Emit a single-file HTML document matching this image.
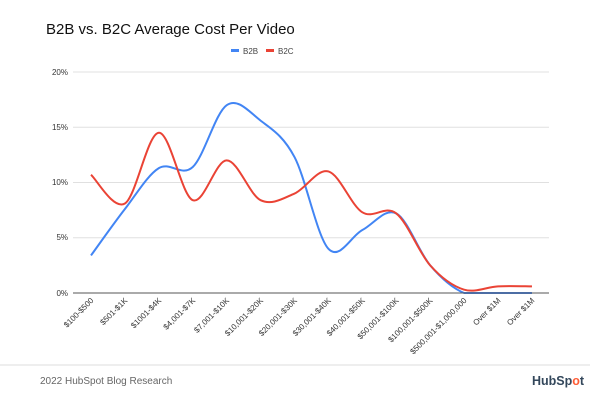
<!DOCTYPE html>
<html><head><meta charset="utf-8"><style>
body{margin:0;background:#fff;width:600px;height:400px;overflow:hidden;font-family:"Liberation Sans",Arial,sans-serif}
</style></head><body>
<svg id="s" width="600" height="400" xmlns="http://www.w3.org/2000/svg" font-family="Liberation Sans, Arial, sans-serif">
<text x="46" y="34" font-size="15" fill="#111">B2B vs. B2C Average Cost Per Video</text>
<rect x="231" y="49" width="8" height="3" fill="#4285f4"/>
<text x="243" y="54" font-size="8" fill="#444">B2B</text>
<rect x="266" y="49" width="8" height="3" fill="#ea4335"/>
<text x="278" y="54" font-size="8" fill="#444">B2C</text>
<g stroke="#e0e0e0" stroke-width="1">
<line x1="73" x2="549" y1="72" y2="72"/><line x1="73" x2="549" y1="127.3" y2="127.3"/>
<line x1="73" x2="549" y1="182.5" y2="182.5"/><line x1="73" x2="549" y1="237.8" y2="237.8"/>
</g>
<g font-size="8" fill="#333" text-anchor="end">
<text x="68" y="75">20%</text><text x="68" y="130">15%</text><text x="68" y="185">10%</text><text x="68" y="240">5%</text><text x="68" y="296">0%</text>
</g>
<g id="lines"></g>
<line x1="73" x2="549" y1="293" y2="293" stroke="#555" stroke-width="1"/>
<g id="labels" font-size="8" fill="#333" text-anchor="end"></g>
<line x1="0" x2="590" y1="365" y2="365" stroke="#eee" stroke-width="2"/>
<text x="40" y="384" font-size="10" fill="#666">2022 HubSpot Blog Research</text>
<text x="532" y="385" font-size="12.5" font-weight="bold" fill="#33475b">HubSp<tspan fill="#ff5c35">o</tspan>t</text>
</svg>
<script>
var labs=["$100-$500","$501-$1K","$1001-$4K","$4,001-$7K","$7,001-$10K","$10,001-$20K","$20,001-$30K","$30,001-$40K","$40,001-$50K","$50,001-$100K","$100,001-$500K","$500,001-$1,000,000","Over $1M","Over $1M"];
var b2b=[3.4,7.6,11.3,11.4,17,15.6,12.3,4,5.7,7.2,2.5,0,0,0];
var b2c=[10.7,8.1,14.5,8.4,12,8.4,9,11,7.3,7.2,2.5,0.3,0.6,0.6];
function X(i){return 91+i*33.92}function Y(v){return 293-v*11.05}
function c(y){return Math.min(y,293)}
function path(d){var p=d.map(function(v,i){return [X(i),Y(v)]});var s="M"+p[0][0]+","+p[0][1];
for(var i=0;i<p.length-1;i++){var p0=p[i-1]||p[i],p1=p[i],p2=p[i+1],p3=p[i+2]||p2,t=6;
s+=" C"+(p1[0]+(p2[0]-p0[0])/t)+","+c(p1[1]+(p2[1]-p0[1])/t)+" "+(p2[0]-(p3[0]-p1[0])/t)+","+c(p2[1]-(p3[1]-p1[1])/t)+" "+p2[0]+","+p2[1];}return s;}
var ns="http://www.w3.org/2000/svg",g=document.getElementById("lines");
[[b2b,"#4285f4"],[b2c,"#ea4335"]].forEach(function(a){var e=document.createElementNS(ns,"path");e.setAttribute("d",path(a[0]));e.setAttribute("fill","none");e.setAttribute("stroke",a[1]);e.setAttribute("stroke-width","2");g.appendChild(e);});
var L=document.getElementById("labels");
labs.forEach(function(l,i){var t=document.createElementNS(ns,"text");var x=X(i)+3,y=301;t.setAttribute("x",x);t.setAttribute("y",y);t.setAttribute("transform","rotate(-45 "+x+" "+y+")");t.textContent=l;L.appendChild(t);});
</script>
</body></html>
